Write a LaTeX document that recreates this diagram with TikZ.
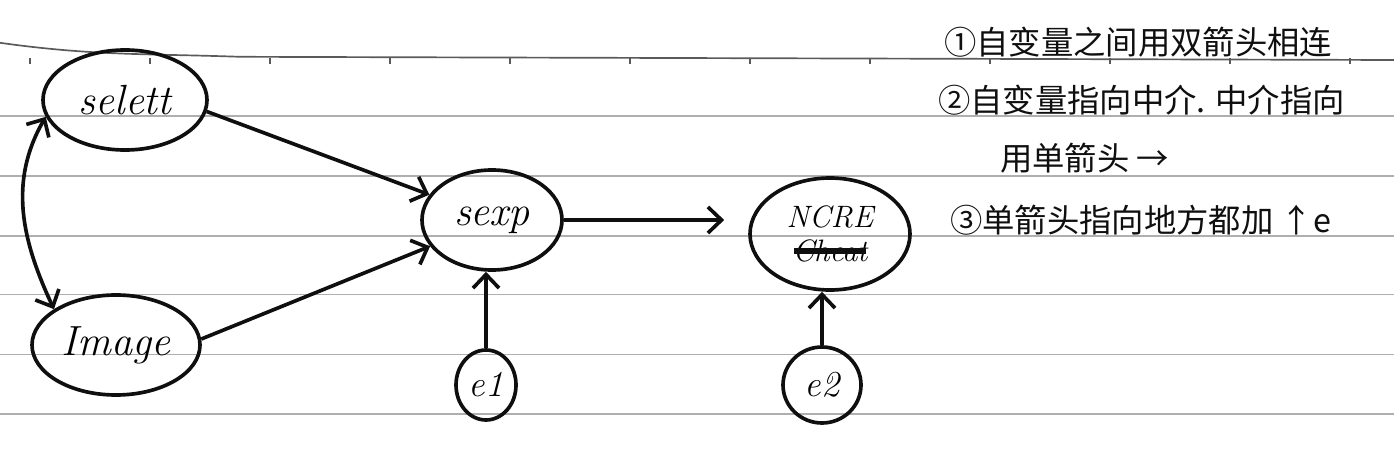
\documentclass[tikz,border=0pt]{standalone}
\usepackage{fontspec}
\newfontfamily\cjk{Noto Sans CJK SC}
\usepackage{tikz}
\usetikzlibrary{arrows.meta,shapes.geometric,positioning}
\usepackage{xcolor}
\definecolor{inkblack}{RGB}{15,15,15}
\definecolor{rulegray}{RGB}{175,175,175}
\definecolor{topgray}{RGB}{90,90,90}

\begin{document}
\begin{tikzpicture}[scale=1.0,>={Straight Barb[length=3.4mm,width=6.5mm]},
  var/.style={ellipse,draw=inkblack,line width=2.6pt,inner sep=0pt,
    font=\fontsize{30}{34}\selectfont\itshape},
  errvar/.style={var,font=\fontsize{26}{30}\selectfont\itshape},
  link/.style={->,draw=inkblack,line width=2.6pt},
  note/.style={anchor=west,inner sep=0pt,text=inkblack,
    font=\cjk\fontsize{23}{28}\selectfont}]
\useasboundingbox (0,0) rectangle (34.85,-11.35);
% notebook paper
\draw[topgray,line width=1.2pt] (0,-1.07) to[out=-8,in=178] (6,-1.42) -- (34.85,-1.5);
\foreach \i in {0,...,11}{
  \draw[topgray,line width=1pt] ({0.75+3*\i},-1.45) -- ++(0,-0.14);
}
\foreach \y in {2.9,4.4,5.9,7.37,8.87,10.35}{
  \draw[rulegray,line width=0.8pt] (0,-\y) -- (34.85,-\y);
}
% variables
\node[var,minimum width=4.1cm,minimum height=2.5cm] (selett) at (3.125,-2.5) {selett};
\node[var,minimum width=4.2cm,minimum height=2.5cm] (image) at (2.9,-8.625) {Image};
\node[var,minimum width=3.5cm,minimum height=2.5cm] (sexp) at (12.3,-5.5) {sexp};
\node[var,minimum width=4.0cm,minimum height=2.8cm,align=center,
  font=\fontsize{22}{24}\selectfont\itshape] (ncre) at (20.75,-5.85) {NCRE\\Cheat};
\draw[inkblack,line width=4pt] ([xshift=-0.9cm,yshift=-0.42cm]ncre.center) -- ++(1.8cm,0);
\node[errvar,minimum width=1.5cm,minimum height=1.75cm] (e1) at (12.15,-9.625) {e1};
\node[errvar,minimum width=1.95cm,minimum height=1.9cm] (e2) at (20.55,-9.625) {e2};
% connectors
\draw[link,<->] (selett.192) to[out=240,in=115] (image.150);
\draw[link] (selett.-8) -- (sexp.158);
\draw[link] (image.4) -- (sexp.203);
\draw[link,shorten >=0.6cm] (sexp.east) -- (sexp.east -| ncre.west);
\draw[link] (e1.north) -- (e1.north |- sexp.south);
\draw[link] (e2.north) -- (e2.north |- ncre.south);
% notes
\node[note] (n1) at (23.6,-1.05) {①自变量之间用双箭头相连};
\node[note] (n2) at (23.45,-2.5) {②自变量指向中介. 中介指向};
\node[note] (n3) at (25.0,-3.95) {用单箭头 →};
\node[note] (n4) at (23.75,-5.5) {③单箭头指向地方都加 ↑\textit{e}};
\end{tikzpicture}
\end{document}
